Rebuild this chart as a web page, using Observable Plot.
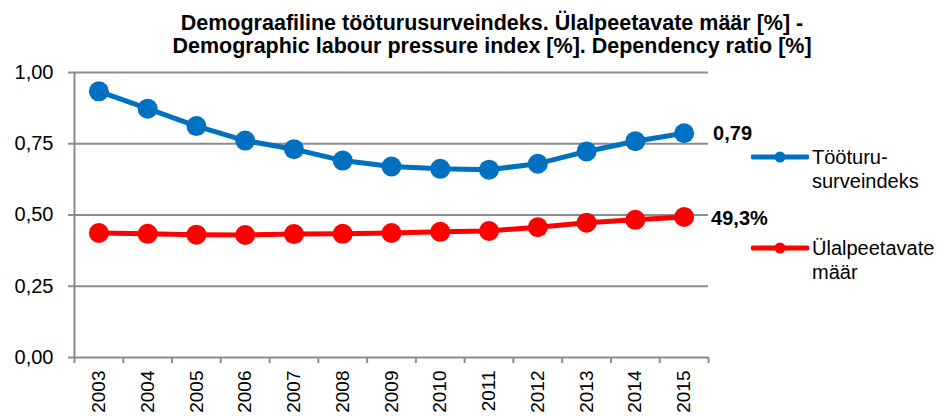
<!DOCTYPE html>
<html>
<head>
<meta charset="utf-8">
<script src="https://cdn.jsdelivr.net/npm/d3@7"></script>
<script src="https://cdn.jsdelivr.net/npm/@observablehq/plot@0.6"></script>
<style>
  body { margin: 0; background: #fff; }
  #wrap { position: relative; width: 948px; height: 416px; overflow: hidden; font-family: "Liberation Sans", Arial, sans-serif; }
  #title { position: absolute; left: 0; width: 984px; top: 12px; text-align: center; font-weight: bold; font-size: 21.5px; line-height: 22.6px; color: #000; }
  .leg { position: absolute; font-size: 20px; line-height: 24px; color: #000; }
  .sw { position: absolute; }
  #chart { position: absolute; left: 0; top: 0; }
</style>
</head>
<body>
<div id="wrap">
  <div id="chart"></div>
  <div id="title">Demograafiline tööturusurveindeks. Ülalpeetavate määr [%] -<br>Demographic labour pressure index [%]. Dependency ratio [%]</div>
  <div id="legend"></div>
</div>
<script>
const years = [2003, 2004, 2005, 2006, 2007, 2008, 2009, 2010, 2011, 2012, 2013, 2014, 2015];
const labourPressure = [0.934, 0.873, 0.812, 0.761, 0.731, 0.691, 0.670, 0.662, 0.659, 0.680, 0.723, 0.759, 0.787];
const dependency = [0.437, 0.434, 0.431, 0.430, 0.433, 0.434, 0.437, 0.441, 0.444, 0.457, 0.473, 0.483, 0.493];
const seriesNames = ["Tööturu-\nsurveindeks", "Ülalpeetavate\nmäär"];
const seriesColors = ["#0070C0", "#FF0000"];
const endLabels = ["0,79", "49,3%"];
const yTicks = [0, 0.25, 0.5, 0.75, 1];

const locale = d3.formatLocale({decimal: ",", thousands: " ", grouping: [3], currency: ["", ""]});
const fmt = locale.format(".2f");

const rows = [];
years.forEach((yr, i) => {
  rows.push({year: yr, value: labourPressure[i], series: 0});
  rows.push({year: yr, value: dependency[i], series: 1});
});
const s0 = rows.filter(d => d.series === 0);
const s1 = rows.filter(d => d.series === 1);
const boundaries = years.map(y => y - 0.5).concat([years[years.length - 1] + 0.5]);
const grey = "#8c8c8c";

const chart = Plot.plot({
  width: 948,
  height: 416,
  marginLeft: 74,
  marginRight: 240,
  marginTop: 72,
  marginBottom: 59,
  style: {fontFamily: "'Liberation Sans', Arial, sans-serif", background: "transparent", color: "#000"},
  x: {type: "linear", domain: [boundaries[0], boundaries[boundaries.length - 1]]},
  y: {domain: [0, 1]},
  marks: [
    Plot.gridY(yTicks, {stroke: grey, strokeOpacity: 1, strokeWidth: 2}),
    Plot.ruleX([boundaries[0]], {stroke: grey, strokeWidth: 2}),
    Plot.axisY({ticks: yTicks, tickSize: 6, tickPadding: 15, tickFormat: fmt, fontSize: 20, stroke: grey, strokeWidth: 2, label: null}),
    Plot.axisX({ticks: boundaries, tickSize: 6, tickFormat: () => "", stroke: grey, strokeWidth: 2, label: null}),
    Plot.axisX({ticks: years, tickSize: 0, tickPadding: 13, tickRotate: -90, tickFormat: d => String(d), fontSize: 19, label: null}),
    Plot.lineY(s0, {x: "year", y: "value", stroke: seriesColors[0], strokeWidth: 5}),
    Plot.dot(s0, {x: "year", y: "value", r: 10, fill: seriesColors[0]}),
    Plot.lineY(s1, {x: "year", y: "value", stroke: seriesColors[1], strokeWidth: 5}),
    Plot.dot(s1, {x: "year", y: "value", r: 10, fill: seriesColors[1]}),
    Plot.text([s0[s0.length - 1]], {x: "year", y: "value", text: () => endLabels[0], dx: 29, dy: 0, textAnchor: "start", fontSize: 20, fontWeight: "bold", fill: "#000"}),
    Plot.text([s1[s1.length - 1]], {x: "year", y: "value", text: () => endLabels[1], dx: 27, dy: 2, textAnchor: "start", fontSize: 20, fontWeight: "bold", fill: "#000"})
  ]
});
document.getElementById("chart").appendChild(chart);

// legend
const legend = document.getElementById("legend");
const legY = [157, 248];
seriesNames.forEach((name, i) => {
  const sw = document.createElementNS("http://www.w3.org/2000/svg", "svg");
  sw.setAttribute("class", "sw");
  sw.setAttribute("width", 58);
  sw.setAttribute("height", 14);
  sw.style.left = "751px";
  sw.style.top = (legY[i] - 7) + "px";
  sw.innerHTML = `<line x1="2" y1="7" x2="56" y2="7" stroke="${seriesColors[i]}" stroke-width="5" stroke-linecap="round"/><circle cx="29" cy="7" r="5.5" fill="${seriesColors[i]}"/>`;
  legend.appendChild(sw);
  const t = document.createElement("div");
  t.className = "leg";
  t.style.left = "812px";
  t.style.top = (legY[i] - 12) + "px";
  t.innerHTML = name.split("\n").join("<br>");
  legend.appendChild(t);
});
</script>
</body>
</html>
